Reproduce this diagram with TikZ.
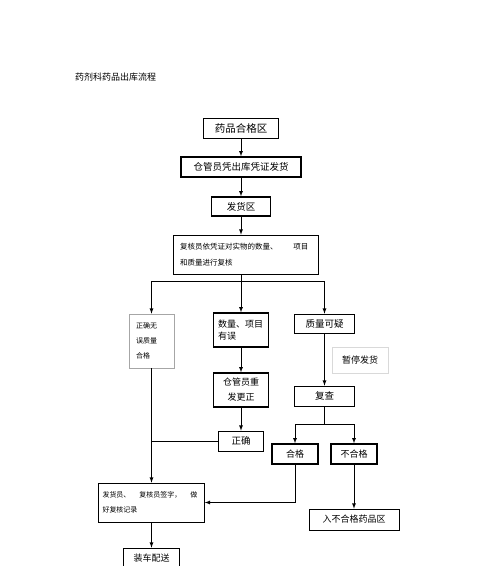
\documentclass[tikz,border=0pt]{standalone}
\usepackage{fontspec}
\usepackage{tikz}
\newfontfamily\cjk{Noto Sans CJK SC}

\begin{document}
\begin{tikzpicture}[x=1pt, y=-1pt, >=latex,
  every node/.style={inner sep=0pt, font=\cjk\fontsize{9.5}{12}\selectfont},
  plain/.style={draw, line width=0.7pt},
  heavy/.style={draw, line width=1.4pt},
  pale/.style={draw=gray!70, line width=0.7pt},
  faint/.style={draw=gray!30, line width=0.6pt},
  link/.style={line width=0.8pt}
]
\useasboundingbox (0,0) rectangle (500,566);
\clip (0,0) rectangle (500,566);

\node[anchor=west, font=\cjk\fontsize{9}{11}\selectfont] (title) at (75,77) {药剂科药品出库流程};

\node[plain, minimum width=75pt, minimum height=20pt, font=\cjk\fontsize{10.5}{12}\selectfont] (hegequ) at (241,128) {药品合格区};
\node[heavy, minimum width=120pt, minimum height=20pt] (chuku) at (241,167) {仓管员凭出库凭证发货};
\node[heavy, minimum width=59pt, minimum height=19pt] (fahuoqu) at (241,206.5) {发货区};
\node[plain, minimum width=145pt, minimum height=39pt, text width=131pt, align=left,
  font=\cjk\fontsize{7.5}{16}\selectfont] (fuhe) at (245.5,254.5)
  {复核员依凭证对实物的数量、\hspace{16pt}项目\\和质量进行复核};

\node[pale, minimum width=45pt, minimum height=54pt, text width=31pt, align=left,
  font=\cjk\fontsize{7}{15}\selectfont] (wuwu) at (151.5,341) {正确无\\误质量\\合格};
\node[heavy, minimum width=55pt, minimum height=34pt, text width=46pt, align=left,
  font=\cjk\fontsize{9}{12}\selectfont] (youwu) at (241,330) {数量、项目\\有误};
\node[plain, minimum width=60pt, minimum height=19pt] (keyi) at (324.5,323.5) {质量可疑};
\node[faint, minimum width=56pt, minimum height=26pt, font=\cjk\fontsize{9}{12}\selectfont] (zanting) at (360,360) {暂停发货};
\node[heavy, minimum width=55pt, minimum height=34pt, align=center,
  font=\cjk\fontsize{9}{15}\selectfont] (chongfa) at (241,390) {仓管员重\\发更正};
\node[plain, minimum width=60pt, minimum height=20pt] (fucha) at (324.5,396) {复查};

\node[plain, minimum width=45pt, minimum height=20pt] (zhengque) at (241,441) {正确};
\node[heavy, minimum width=46pt, minimum height=20pt, font=\cjk\fontsize{9}{12}\selectfont] (hege) at (295,454) {合格};
\node[heavy, minimum width=46pt, minimum height=20pt, font=\cjk\fontsize{9}{12}\selectfont] (buhege) at (354,454) {不合格};

\node[plain, minimum width=106pt, minimum height=39pt, text width=98pt, align=left,
  font=\cjk\fontsize{7}{15}\selectfont] (qianzi) at (151.5,502.5)
  {发货员、\hspace{9pt}复核员签字，\hspace{9pt}做\\好复核记录};
\node[plain, minimum width=90pt, minimum height=21pt, font=\cjk\fontsize{9}{12}\selectfont] (ruku) at (354,519.5) {入不合格药品区};
\node[plain, minimum width=56pt, minimum height=20pt, font=\cjk\fontsize{9}{12}\selectfont] (zhuangche) at (151.5,558) {装车配送};

% main line
\draw[link,->] (hegequ) -- (chuku);
\draw[link,->] (chuku) -- (fahuoqu);
\draw[link,->] (fahuoqu.south) -- (fahuoqu.south |- fuhe.north);

% three branches
\coordinate (fen) at (241,281);
\draw[link] (fen |- fuhe.south) -- (fen);
\draw[link] (wuwu.north |- fen) -- (keyi.north |- fen);
\draw[link,->] (wuwu.north |- fen) -- (wuwu.north);
\draw[link,->] (fen) -- (youwu.north);
\draw[link,->] (keyi.north |- fen) -- (keyi.north);

\draw[link,->] (youwu) -- (chongfa);
\draw[link,->] (chongfa) -- (zhengque);
\draw[link] (zhengque.west) -- (wuwu.south |- zhengque.west);
\draw[link,->] (wuwu) -- (qianzi);

\draw[link,->] (keyi) -- (fucha);
\coordinate (cha) at (324.5,424);
\draw[link] (fucha) -- (cha);
\draw[link] (hege.north |- cha) -- (buhege.north |- cha);
\draw[link,->] (hege.north |- cha) -- (hege.north);
\draw[link,->] (buhege.north |- cha) -- (buhege.north);

\draw[link,->] (hege.south) -- (hege.south |- qianzi.east) -- (qianzi.east);
\draw[link,->] (buhege) -- (ruku);
\draw[link,->] (qianzi) -- (zhuangche);
\end{tikzpicture}
\end{document}
